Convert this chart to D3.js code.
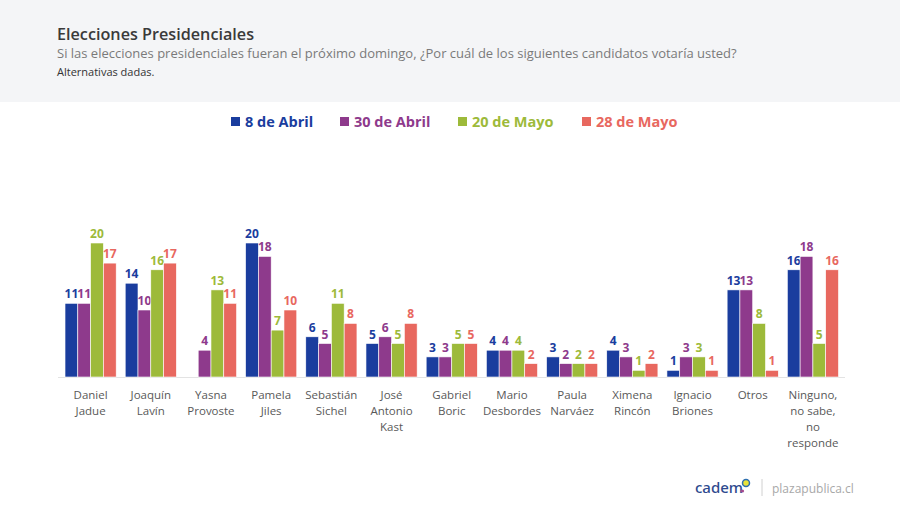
<!DOCTYPE html>
<html>
<head>
<meta charset="utf-8">
<script src="https://cdn.jsdelivr.net/npm/d3@7"></script>
<style>
  html, body { margin: 0; padding: 0; background: #ffffff; }
  svg { display: block; }
</style>
</head>
<body>
<svg id="chart" width="900" height="510"></svg>
<script>
const categories = [
  ["Daniel", "Jadue"],
  ["Joaquín", "Lavín"],
  ["Yasna", "Provoste"],
  ["Pamela", "Jiles"],
  ["Sebastián", "Sichel"],
  ["José", "Antonio", "Kast"],
  ["Gabriel", "Boric"],
  ["Mario", "Desbordes"],
  ["Paula", "Narváez"],
  ["Ximena", "Rincón"],
  ["Ignacio", "Briones"],
  ["Otros"],
  ["Ninguno,", "no sabe,", "no", "responde"]
];
const seriesNames = ["8 de Abril", "30 de Abril", "20 de Mayo", "28 de Mayo"];
const seriesColors = ["#1a3d9e", "#8e3a8c", "#9dba3a", "#e8685f"];
const abril8  = [11, 14, null, 20, 6, 5, 3, 4, 3, 4, 1, 13, 16];
const abril30 = [11, 10, 4, 18, 5, 6, 3, 4, 2, 3, 3, 13, 18];
const mayo20  = [20, 16, 13, 7, 11, 5, 5, 4, 2, 1, 3, 8, 5];
const mayo28  = [17, 17, 11, 10, 8, 8, 5, 2, 2, 2, 1, 1, 16];
const seriesValues = [abril8, abril30, mayo20, mayo28];

const svg = d3.select("#chart");
const font = "'Open Sans', sans-serif";

// Header band
svg.append("rect").attr("x", 0).attr("y", 0).attr("width", 900).attr("height", 102).attr("fill", "#f4f5f7");
svg.append("text").attr("x", 57).attr("y", 40).attr("font-family", font).attr("font-weight", 600)
  .attr("font-size", 16.2).attr("fill", "#3a3a3a").text("Elecciones Presidenciales");
svg.append("text").attr("x", 57).attr("y", 58).attr("font-family", font)
  .attr("font-size", 13).attr("fill", "#7a7a7a")
  .text("Si las elecciones presidenciales fueran el próximo domingo, ¿Por cuál de los siguientes candidatos votaría usted?");
svg.append("text").attr("x", 57).attr("y", 76).attr("font-family", font)
  .attr("font-size", 11).attr("fill", "#333").text("Alternativas dadas.");

// Legend
const legendX = [231, 340, 458, 582];
const legend = svg.append("g");
seriesNames.forEach((name, i) => {
  legend.append("rect").attr("x", legendX[i]).attr("y", 117).attr("width", 9).attr("height", 9).attr("fill", seriesColors[i]);
  legend.append("text").attr("x", legendX[i] + 14).attr("y", 127).attr("font-family", font)
    .attr("font-weight", 700).attr("font-size", 14.5).attr("fill", seriesColors[i]).text(name);
});

// Scales
const x0 = d3.scaleBand().domain(d3.range(categories.length)).range([60.5, 843]).paddingInner(0.15).paddingOuter(0.075);
const x1 = d3.scaleBand().domain(d3.range(seriesNames.length)).range([0, x0.bandwidth()]);
const y = d3.scaleLinear().domain([0, 20]).range([377, 243]);

// Baseline
svg.append("line").attr("x1", 58).attr("x2", 845).attr("y1", y(0) + 0.5).attr("y2", y(0) + 0.5)
  .attr("stroke", "#e3e3e3").attr("stroke-width", 1);

const groups = svg.append("g").selectAll("g").data(categories).join("g")
  .attr("transform", (d, i) => `translate(${x0(i)},0)`);

groups.each(function(d, ci) {
  const g = d3.select(this);
  seriesValues.forEach((vals, si) => {
    const v = vals[ci];
    if (v === null || v === undefined) return;
    g.append("rect").attr("x", x1(si)).attr("y", y(v)).attr("width", x1.bandwidth())
      .attr("height", y(0) - y(v)).attr("fill", seriesColors[si])
      .attr("stroke", "#ffffff").attr("stroke-width", 0.6);
    g.append("text").attr("x", x1(si) + x1.bandwidth() / 2).attr("y", y(v) - 5)
      .attr("text-anchor", "middle").attr("font-family", font).attr("font-weight", 700)
      .attr("font-size", 12).attr("fill", seriesColors[si]).text(v);
  });
});

// Category labels
const catG = svg.append("g");
categories.forEach((lines, i) => {
  const t = catG.append("text").attr("x", x0(i) + x0.bandwidth() / 2).attr("y", 399)
    .attr("text-anchor", "middle").attr("font-family", font).attr("font-size", 11.5).attr("fill", "#595959");
  lines.forEach((ln, k) => {
    t.append("tspan").attr("x", x0(i) + x0.bandwidth() / 2).attr("dy", k === 0 ? 0 : 16).text(ln);
  });
});

// Footer
const foot = svg.append("g");
foot.append("text").attr("x", 695).attr("y", 493).attr("font-family", "'Noto Sans', sans-serif")
  .attr("font-size", 15).attr("font-weight", 500).attr("fill", "#2e4a8e").text("cadem");
foot.append("circle").attr("cx", 746).attr("cy", 483).attr("r", 3.5).attr("fill", "#e8e33a").attr("stroke", "#2e6fb0").attr("stroke-width", 1.5);
foot.append("circle").attr("cx", 742.5).attr("cy", 491).attr("r", 1.6).attr("fill", "#a64a8e");
foot.append("line").attr("x1", 762).attr("x2", 762).attr("y1", 479).attr("y2", 496).attr("stroke", "#d0d0d0").attr("stroke-width", 1);
foot.append("text").attr("x", 772).attr("y", 493).attr("font-family", font)
  .attr("font-size", 12).attr("fill", "#a8a8a8").text("plazapublica.cl");
</script>
</body>
</html>
